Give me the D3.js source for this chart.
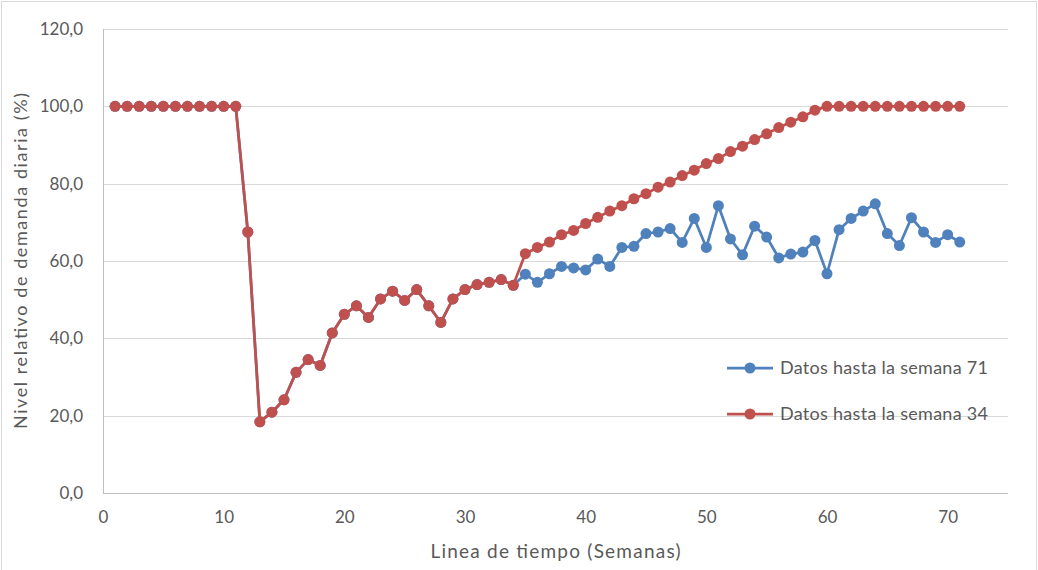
<!DOCTYPE html>
<html>
<head>
<meta charset="utf-8">
<script src="https://cdn.jsdelivr.net/npm/d3@7/dist/d3.min.js"></script>
<style>
  html, body { margin: 0; padding: 0; background: #ffffff; }
  svg { display: block; }
  text { font-family: Lato, "Noto Sans", sans-serif; fill: #595959; }
</style>
</head>
<body>
<svg id="chart" width="1038" height="570"></svg>
<script>
// Semanas 1..71
const weeks = d3.range(1, 72);

// Datos observados hasta la semana 71
const actualValues = [
  100, 100, 100, 100, 100, 100, 100, 100, 100, 100, 100,
  67.5, 18.4, 20.9, 24.1, 31.2, 34.5, 33.0, 41.4, 46.2, 48.4,
  45.4, 50.2, 52.2, 49.8, 52.6, 48.4, 44.1, 50.2, 52.6, 53.9,
  54.5, 55.2, 53.7,
  56.6, 54.5, 56.7, 58.6, 58.2, 57.7, 60.5, 58.6, 63.5, 63.8,
  67.1, 67.5, 68.4, 64.8, 71.0, 63.5, 74.3, 65.7, 61.6, 69.0,
  66.2, 60.8, 61.8, 62.3, 65.3, 56.7, 68.1, 71.0, 72.9, 74.8,
  67.1, 64.0, 71.2, 67.5, 64.8, 66.8, 64.9
];

// Datos hasta la semana 34 y su proyección posterior
const projectedValues = [
  100, 100, 100, 100, 100, 100, 100, 100, 100, 100, 100,
  67.5, 18.4, 20.9, 24.1, 31.2, 34.5, 33.0, 41.4, 46.2, 48.4,
  45.4, 50.2, 52.2, 49.8, 52.6, 48.4, 44.1, 50.2, 52.6, 53.9,
  54.5, 55.2, 53.7,
  61.9, 63.5, 64.9, 66.8, 67.9, 69.7, 71.3, 72.9, 74.3, 76.1,
  77.4, 79.1, 80.4, 82.1, 83.5, 85.2, 86.5, 88.3, 89.7, 91.4,
  92.9, 94.5, 95.9, 97.3, 99.0,
  100, 100, 100, 100, 100, 100, 100, 100, 100, 100, 100, 100
];

const xTicks = [0, 10, 20, 30, 40, 50, 60, 70];
const yTicks = [0, 20, 40, 60, 80, 100, 120];

const seriesNames = ["Datos hasta la semana 71", "Datos hasta la semana 34"];
const seriesColors = ["#4f81bd", "#c0504d"];

const series = [
  { name: seriesNames[0], color: seriesColors[0], values: actualValues },
  { name: seriesNames[1], color: seriesColors[1], values: projectedValues }
];

const svg = d3.select("#chart");
const W = 1038, H = 570;
const plot = { left: 103, right: 1008, top: 29, bottom: 493 };

// Borde del área del gráfico
svg.append("rect")
  .attr("x", 1.5).attr("y", 1.5)
  .attr("width", W - 3).attr("height", H)
  .attr("fill", "#ffffff")
  .attr("stroke", "#d9d9d9").attr("stroke-width", 1);

const x = d3.scaleLinear().domain([0, 75]).range([plot.left, plot.right]);
const y = d3.scaleLinear().domain([0, 120]).range([plot.bottom, plot.top]);

const fmt = v => d3.format(".1f")(v).replace(".", ",");

// Líneas de cuadrícula horizontales
svg.append("g")
  .selectAll("line")
  .data(yTicks.filter(t => t > 0))
  .join("line")
  .attr("x1", plot.left).attr("x2", plot.right)
  .attr("y1", d => Math.round(y(d)) + 0.5)
  .attr("y2", d => Math.round(y(d)) + 0.5)
  .attr("stroke", "#d9d9d9").attr("stroke-width", 1);

// Eje Y
const yAxis = svg.append("g")
  .attr("transform", `translate(${plot.left},0)`)
  .call(d3.axisLeft(y).tickValues(yTicks).tickFormat(fmt).tickSize(0).tickPadding(20));
yAxis.select(".domain").remove();
yAxis.selectAll("text")
  .attr("font-size", 17)
  .attr("font-family", "Lato, 'Noto Sans', sans-serif")
  .attr("fill", "#595959");

// Eje X
const xAxis = svg.append("g")
  .attr("transform", `translate(0,${plot.bottom})`)
  .call(d3.axisBottom(x).tickValues(xTicks).tickFormat(d3.format("d")).tickSize(0).tickPadding(18));
xAxis.select(".domain").remove();
xAxis.selectAll("text")
  .attr("font-size", 17)
  .attr("font-family", "Lato, 'Noto Sans', sans-serif")
  .attr("fill", "#595959");

// Líneas de los ejes
svg.append("line")
  .attr("x1", plot.left + 0.5).attr("x2", plot.left + 0.5)
  .attr("y1", plot.top).attr("y2", plot.bottom + 0.5)
  .attr("stroke", "#bfbfbf").attr("stroke-width", 1);
svg.append("line")
  .attr("x1", plot.left).attr("x2", plot.right)
  .attr("y1", plot.bottom + 0.5).attr("y2", plot.bottom + 0.5)
  .attr("stroke", "#bfbfbf").attr("stroke-width", 1);

// Series
const line = d3.line()
  .x((d, i) => x(weeks[i]))
  .y(d => y(d));

series.forEach(s => {
  const g = svg.append("g");
  g.append("path")
    .datum(s.values)
    .attr("d", line)
    .attr("fill", "none")
    .attr("stroke", s.color)
    .attr("stroke-width", 2.75)
    .attr("stroke-linejoin", "round");
  g.selectAll("circle")
    .data(s.values)
    .join("circle")
    .attr("cx", (d, i) => x(weeks[i]))
    .attr("cy", d => y(d))
    .attr("r", 5.5)
    .attr("fill", s.color);
});

// Títulos de los ejes (espaciado abierto, como en la plantilla de hoja de cálculo)
svg.append("text")
  .attr("x", (plot.left + plot.right) / 2)
  .attr("y", 558)
  .attr("text-anchor", "middle")
  .attr("font-size", 19)
  .attr("textLength", 250)
  .attr("lengthAdjust", "spacing")
  .text("Linea de tiempo (Semanas)");

svg.append("text")
  .attr("transform", `translate(27,${(plot.top + plot.bottom) / 2}) rotate(-90)`)
  .attr("text-anchor", "middle")
  .attr("font-size", 18)
  .attr("textLength", 336)
  .attr("lengthAdjust", "spacing")
  .text("Nivel relativo de demanda diaria (%)");

// Leyenda
const legend = svg.append("g");
series.forEach((s, i) => {
  const ly = 368 + i * 46;
  legend.append("line")
    .attr("x1", 727).attr("x2", 773)
    .attr("y1", ly).attr("y2", ly)
    .attr("stroke", s.color).attr("stroke-width", 2.75);
  legend.append("circle")
    .attr("cx", 750).attr("cy", ly).attr("r", 5.5)
    .attr("fill", s.color);
  legend.append("text")
    .attr("x", 780).attr("y", ly)
    .attr("dy", "0.35em")
    .attr("font-size", 18)
    .attr("textLength", 208)
    .attr("lengthAdjust", "spacing")
    .text(s.name);
});
</script>
</body>
</html>
